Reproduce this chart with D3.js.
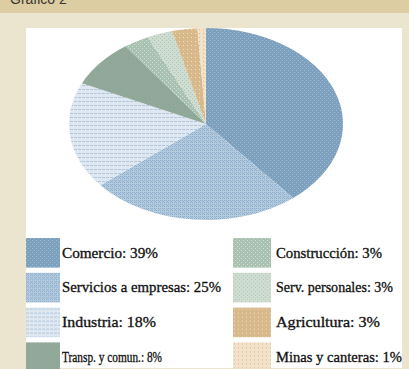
<!DOCTYPE html>
<html>
<head>
<meta charset="utf-8">
<script src="https://cdn.jsdelivr.net/npm/d3@7"></script>
<style>
  html, body { margin: 0; padding: 0; background: #ebe4cf; }
  svg { display: block; }
</style>
</head>
<body>
<script>
// Distribución por sector (%)
const sectors = ["Comercio", "Servicios a empresas", "Industria", "Transp. y comun.",
                 "Construcción", "Serv. personales", "Agricultura", "Minas y canteras"];
const shares = [39, 25, 18, 8, 3, 3, 3, 1];
const legendLabels = sectors.map((s, i) => `${s}: ${shares[i]}%`);

// Texture per sector: base colour, dot colour, motif
const textures = [
  { base: "#7f9fbc", ink: "#8cc3d8", kind: "diag" },
  { base: "#b3cbdc", ink: "#8eaed0", kind: "cross" },
  { base: "#dfe8f0", ink: "#b0c6de", kind: "dash" },
  { base: "#8fa999", ink: "#b39ea2", kind: "grid" },
  { base: "#a9c1b1", ink: "#d3e0d5", kind: "diag" },
  { base: "#cfddd1", ink: "#aac6b7", kind: "diag" },
  { base: "#d7b98c", ink: "#efe0ba", kind: "grid" },
  { base: "#f0e3c8", ink: "#e2aca2", kind: "grid" }
];
// Legend text widths
const labelWidths = [96, 159, 94, 100, 106, 117, 104, 126];

const W = 409, H = 369;
const svg = d3.select("body").append("svg").attr("width", W).attr("height", H);
const defs = svg.append("defs");

// Header band
svg.append("rect").attr("x", 0).attr("y", 0).attr("width", W).attr("height", 13).attr("fill", "#dccda3");
svg.append("text").attr("x", 10).attr("y", 4)
  .attr("font-family", "Liberation Sans, Arial, sans-serif").attr("font-size", 14)
  .attr("fill", "#3a3530").text("Gráfico 2");

// White panel
svg.append("rect").attr("x", 26).attr("y", 28).attr("width", 376).attr("height", 340).attr("fill", "#ffffff");

// Pie geometry (elliptical)
const cx = 206, cy = 124, rx = 137, ry = 96;
const k = rx / ry;

function makePattern(id, t, xform) {
  const p = defs.append("pattern").attr("id", id)
    .attr("patternUnits", "userSpaceOnUse").attr("width", 4).attr("height", 4);
  if (xform) p.attr("patternTransform", xform);
  p.append("rect").attr("width", 4).attr("height", 4).attr("fill", t.base);
  const dot = (x, y, w = 1, h = 1) => p.append("rect").attr("x", x).attr("y", y)
    .attr("width", w).attr("height", h).attr("fill", t.ink);
  if (t.kind === "diag") { dot(0, 0); dot(2, 2); }
  else if (t.kind === "cross") { dot(0, 0); dot(2, 0); dot(1, 1); dot(0, 2); dot(2, 2); }
  else if (t.kind === "dash") { dot(0, 1, 3, 1); }
  else if (t.kind === "grid") { dot(1, 1); }
}
textures.forEach((t, i) => {
  makePattern(`tex-${i}`, t, null);
  makePattern(`tex-e-${i}`, t, `scale(${1 / k},1)`);
});

const pie = d3.pie().sort(null).value(d => d);
const arc = d3.arc().innerRadius(0).outerRadius(ry);

const pieG = svg.append("g").attr("transform", `translate(${cx},${cy}) scale(${k},1)`);
pieG.selectAll("path").data(pie(shares)).join("path")
  .attr("d", arc)
  .attr("fill", (d, i) => `url(#tex-e-${i})`);

// Legend: two columns of four
const rowY = d3.scaleBand().domain(d3.range(4)).range([238, 372]).paddingInner(0.15).paddingOuter(0);
const colX = [26, 233];
const legend = svg.append("g");
const items = legend.selectAll("g").data(legendLabels).join("g")
  .attr("transform", (d, i) => `translate(${colX[Math.floor(i / 4)]},${rowY(i % 4)})`);
items.append("rect")
  .attr("width", (d, i) => i < 4 ? 34 : 38)
  .attr("height", rowY.bandwidth())
  .attr("fill", (d, i) => `url(#tex-${i})`);
items.append("text")
  .attr("x", (d, i) => i < 4 ? 36 : 43)
  .attr("y", rowY.bandwidth() / 2)
  .attr("dy", "0.35em")
  .attr("font-family", "Liberation Serif, Times New Roman, serif")
  .attr("font-size", 14)
  .attr("fill", "#111111")
  .attr("stroke", "#111111")
  .attr("stroke-width", 0.3)
  .attr("textLength", (d, i) => labelWidths[i])
  .attr("lengthAdjust", "spacingAndGlyphs")
  .text(d => d);
</script>
</body>
</html>
